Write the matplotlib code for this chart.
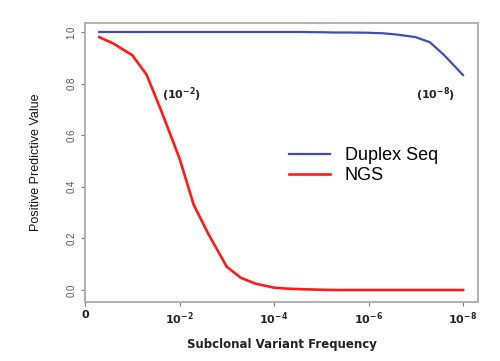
import matplotlib
matplotlib.use('Agg')
import matplotlib.pyplot as plt

# subclonal variant frequency (x), PPV for each method
freq = [5e-1, 2.5e-1, 1e-1, 5e-2, 2.5e-2, 1e-2, 5e-3, 2.5e-3, 1e-3, 5e-4, 2.5e-4,
        1e-4, 5e-5, 2.5e-5, 1e-5, 5e-6, 2.5e-6, 1e-6, 5e-7, 2.5e-7, 1e-7, 5e-8,
        2.5e-8, 1e-8]
ppv_ngs = [0.98, 0.955, 0.91, 0.835, 0.70, 0.51, 0.33, 0.22, 0.09, 0.047, 0.025,
           0.009, 0.005, 0.003, 0.001, 0.0, 0.0, 0.0, 0.0, 0.0, 0.0, 0.0,
           0.0, 0.0]
ppv_duplex = [1.0, 1.0, 1.0, 1.0, 1.0, 1.0, 1.0, 1.0, 1.0, 1.0, 1.0,
              1.0, 1.0, 1.0, 0.999, 0.998, 0.998, 0.997, 0.995, 0.99, 0.98, 0.96,
              0.91, 0.833]

xticks = [1, 1e-2, 1e-4, 1e-6, 1e-8]
xtick_labels = ['0', '$10^{-2}$', '$10^{-4}$', '$10^{-6}$', '$10^{-8}$']
yticks = [0.0, 0.2, 0.4, 0.6, 0.8, 1.0]

plt.rcParams['mathtext.default'] = 'bf'

fig = plt.figure(figsize=(5.0, 3.61), dpi=100)
ax = fig.add_axes([0.17, 0.1634, 0.786, 0.773])

ax.plot(freq, ppv_duplex, color='#3c50b4', lw=1.6, label='Duplex Seq')
ax.plot(freq, ppv_ngs, color='#ff1a1a', lw=1.9, label='NGS')

ax.set_xscale('log')
ax.set_xlim(1, 10 ** -8.317)
ax.set_ylim(-0.0465, 1.035)
ax.minorticks_off()

ax.set_xticks(xticks)
ax.set_xticklabels(xtick_labels, fontsize=8, fontweight='bold', family='DejaVu Sans',
                   color='#222222')
ax.set_yticks(yticks)
ax.set_yticklabels(['%.1f' % v for v in yticks], rotation=90, va='center',
                   fontsize=7, family='Liberation Sans', color='#555555')
ax.tick_params(axis='both', length=3, width=0.8, color='#777777', pad=3)

for s in ax.spines.values():
    s.set_color('#b0b0b0')
    s.set_linewidth(1.4)

ax.set_xlabel('Subclonal Variant Frequency', fontsize=8.5, fontweight='bold',
              family='DejaVu Sans', color='#222222', labelpad=8)
ax.set_ylabel('Positive Predictive Value', fontsize=9, family='Liberation Sans',
              color='#111111', labelpad=18)

ax.text(10 ** -2.05, 0.756, '(10$^{-2}$)', fontsize=8, fontweight='bold',
        ha='center', va='center', color='#222222')
ax.text(10 ** -7.41, 0.756, '(10$^{-8}$)', fontsize=8, fontweight='bold',
        ha='center', va='center', color='#222222')

ax.legend(loc='upper left', bbox_to_anchor=(0.5, 0.582), frameon=False,
          prop={'family': 'Liberation Sans', 'size': 13}, handlelength=2.3,
          handletextpad=0.8, labelspacing=0.2, borderaxespad=0)

fig.savefig('out.png', dpi=100)
